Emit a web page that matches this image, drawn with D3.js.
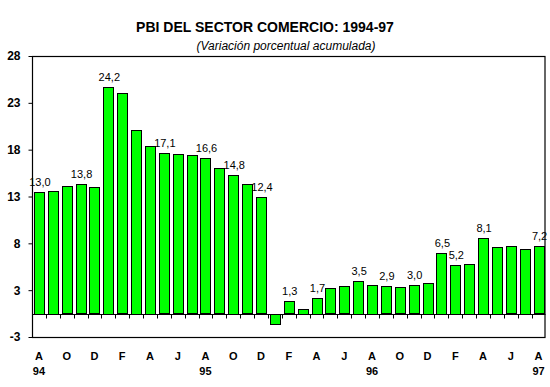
<!DOCTYPE html>
<html>
<head>
	<meta charset='utf-8'>
	<script src="https://cdnjs.cloudflare.com/ajax/libs/d3/7.8.5/d3.min.js" charset="utf-8"></script>
	<style>
	body {
		margin:0;
		background:#fff;
		font-family:"Liberation Sans", Arial, sans-serif;
	}
	</style>
</head>
<body>
	<script>

	// monthly data, Aug 1994 - Aug 1997
	var months = ["A","S","O","N","D","E","F","M","A","M","J","J",
		"A","S","O","N","D","E","F","M","A","M","J","J",
		"A","S","O","N","D","E","F","M","A","M","J","J","A"];
	var values = [13.0,13.1,13.6,13.8,13.5,24.2,23.5,19.6,17.9,17.1,17.0,16.9,
		16.6,15.5,14.8,13.8,12.4,-1.1,1.3,0.5,1.7,2.7,2.9,3.5,
		3.1,2.9,2.8,3.0,3.3,6.5,5.2,5.3,8.1,7.1,7.2,6.9,7.2];
	var labelled = [0,3,5,9,12,14,16,18,20,23,25,27,29,30,32,36];
	var years = ["94","95","96","97"];
	var yearAt = [0,12,24,36];
	// axis runs -2.5..27.5, labels shown rounded as in the original
	var yTicks = [-2.5,2.5,7.5,12.5,17.5,22.5,27.5];
	var yTickLabels = ["-3","3","8","13","18","23","28"];

	var canvasWidth = 550,
		canvasHeight = 387;
	var plot = {left:32, right:545.5, top:56, bottom:337};

	var svg = d3.select('body').append('svg')
		.attr('width', canvasWidth).attr('height', canvasHeight);

	var x = d3.scaleBand()
		.domain(d3.range(values.length))
		.range([plot.left, plot.right])
		.paddingInner(0.28)
		.paddingOuter(0.14);

	var y = d3.scaleLinear()
		.domain([-2.5, 27.5])
		.range([plot.bottom, plot.top]);

	// titles
	svg.append('text').attr('x', 265).attr('y', 32)
		.attr('text-anchor','middle').attr('font-size','14px').attr('font-weight','bold')
		.text('PBI DEL SECTOR COMERCIO: 1994-97');
	svg.append('text').attr('x', 286).attr('y', 50)
		.attr('text-anchor','middle').attr('font-size','12px').attr('font-style','italic')
		.text('(Variación porcentual acumulada)');

	// plot frame
	svg.append('rect')
		.attr('x', plot.left + 0.5).attr('y', plot.top + 0.5)
		.attr('width', plot.right - plot.left - 1).attr('height', plot.bottom - plot.top)
		.attr('fill','none').attr('stroke','#000').attr('stroke-width',1.2);

	// y axis
	var yAxis = d3.axisLeft(y).tickValues(yTicks).tickSize(4).tickPadding(8)
		.tickFormat(function (d, i) { return yTickLabels[i]; });
	var gy = svg.append('g').attr('transform','translate(' + (plot.left + 0.5) + ',0)').call(yAxis);
	gy.select('.domain').remove();
	gy.selectAll('text').attr('font-size','12px').attr('font-weight','bold')
		.attr('font-family','"Liberation Sans", Arial, sans-serif').attr('fill','#000');

	// bars
	svg.selectAll('rect.bar').data(values).enter().append('rect')
		.attr('class','bar')
		.attr('x', function (d, i) { return Math.round(x(i)) + 0.5; })
		.attr('width', Math.round(x.bandwidth()))
		.attr('y', function (d) { return Math.round(y(Math.max(0, d))) + 0.5; })
		.attr('height', function (d) { return Math.round(Math.abs(y(d) - y(0))); })
		.attr('fill','#00ff00').attr('stroke','#000').attr('stroke-width',1);

	// zero line with category ticks
	var zeroY = Math.round(y(0)) + 0.5;
	svg.append('line').attr('x1', plot.left).attr('x2', plot.right)
		.attr('y1', zeroY).attr('y2', zeroY).attr('stroke','#000').attr('stroke-width',1.2);
	svg.selectAll('line.cat').data(d3.range(1, values.length)).enter().append('line')
		.attr('class','cat')
		.attr('x1', function (i) { return Math.round(x(i) - x.step()*x.paddingInner()/2) + 0.5; })
		.attr('x2', function (i) { return Math.round(x(i) - x.step()*x.paddingInner()/2) + 0.5; })
		.attr('y1', zeroY).attr('y2', zeroY + 4)
		.attr('stroke','#000');

	// value labels
	svg.selectAll('text.val').data(labelled).enter().append('text')
		.attr('class','val')
		.attr('x', function (i) { return x(i) + x.bandwidth()/2 + 1; })
		.attr('y', function (i) { return y(values[i]) - 6; })
		.attr('text-anchor','middle').attr('font-size','11px')
		.text(function (i) { return values[i].toFixed(1).replace('.', ','); });

	// month letters, every other month
	svg.selectAll('text.month').data(d3.range(0, values.length, 2)).enter().append('text')
		.attr('class','month')
		.attr('x', function (i) { return x(i) + x.bandwidth()/2; })
		.attr('y', 360)
		.attr('text-anchor','middle').attr('font-size','11px').attr('font-weight','bold')
		.text(function (i) { return months[i]; });

	svg.selectAll('text.year').data(years).enter().append('text')
		.attr('class','year')
		.attr('x', function (d, k) { return x(yearAt[k]) + x.bandwidth()/2; })
		.attr('y', 375)
		.attr('text-anchor','middle').attr('font-size','11px').attr('font-weight','bold')
		.text(function (d) { return d; });

	</script>
</body>
</html>
